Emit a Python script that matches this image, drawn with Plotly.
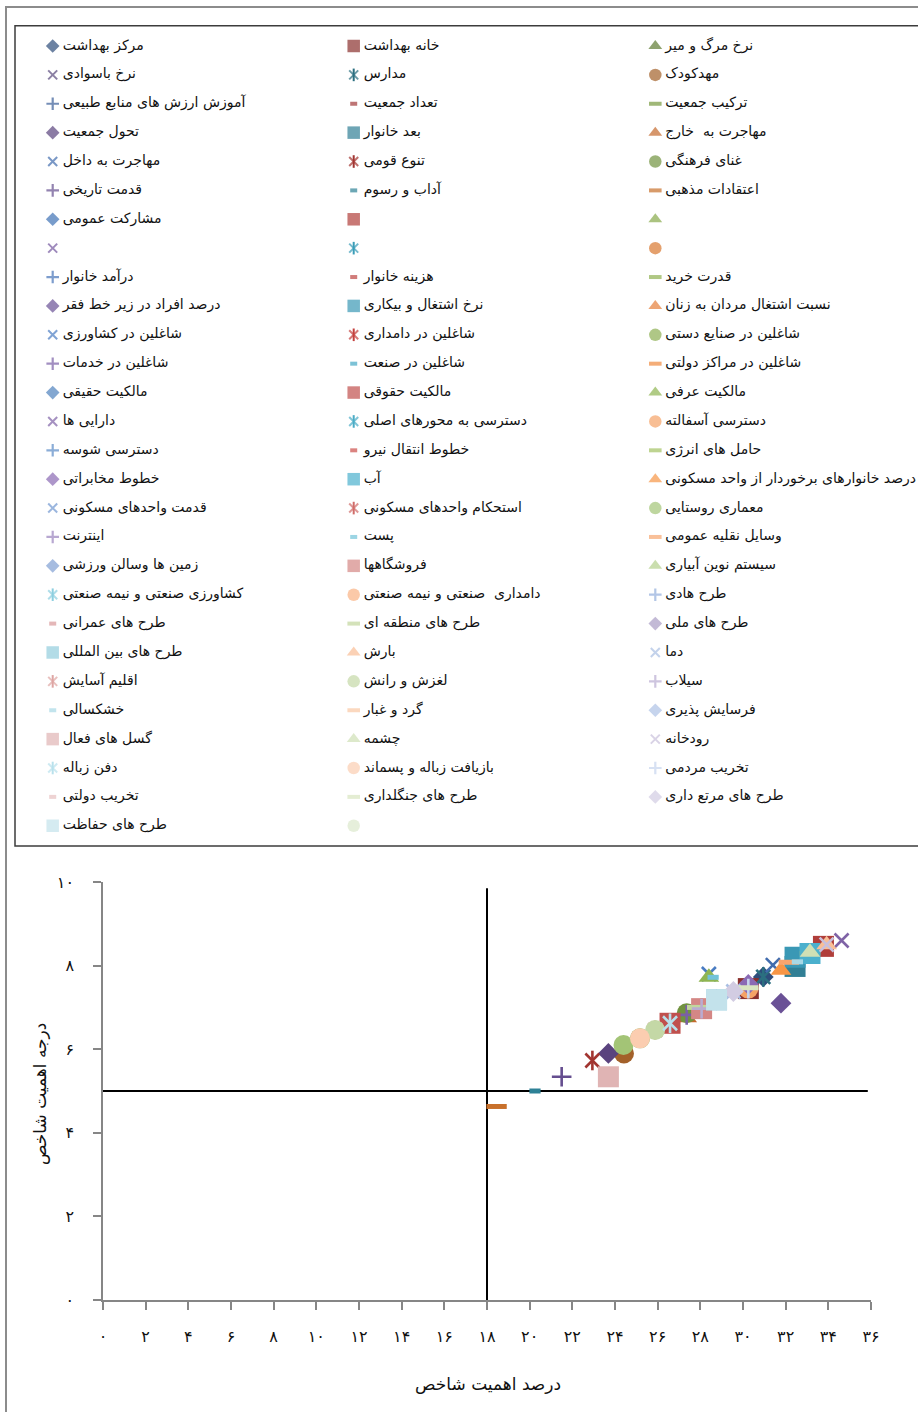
import plotly.graph_objects as go

# ---------------- data ----------------
names = [
    "مرکز بهداشت", "خانه بهداشت", "نرخ مرگ و میر",
    "نرخ باسوادی", "مدارس", "مهدکودک",
    "آموزش ارزش های منابع طبیعی", "تعداد جمعیت", "ترکیب جمعیت",
    "تحول جمعیت", "بعد خانوار", "مهاجرت به  خارج",
    "مهاجرت به داخل", "تنوع قومی", "غنای فرهنگی",
    "قدمت تاریخی", "آداب و رسوم", "اعتقادات مذهبی",
    "مشارکت عمومی", "", "",
    "", "", "",
    "درآمد خانوار", "هزینه خانوار", "قدرت خرید",
    "درصد افراد در زیر خط فقر", "نرخ اشتغال و بیکاری", "نسبت اشتغال مردان به زنان",
    "شاغلین در کشاورزی", "شاغلین در دامداری", "شاغلین در صنایع دستی",
    "شاغلین در خدمات", "شاغلین در صنعت", "شاغلین در مراکز دولتی",
    "مالکیت حقیقی", "مالکیت حقوقی", "مالکیت عرفی",
    "دارایی ها", "دسترسی به محورهای اصلی", "دسترسی آسفالته",
    "دسترسی شوسه", "خطوط انتقال نیرو", "حامل های انرژی",
    "خطوط مخابراتی", "آب", "درصد خانوارهای برخوردار از واحد مسکونی",
    "قدمت واحدهای مسکونی", "استحکام واحدهای مسکونی", "معماری روستایی",
    "اینترنت", "پست", "وسایل نقلیه عمومی",
    "زمین ها وسالن ورزشی", "فروشگاهها", "سیستم نوین آبیاری",
    "کشاورزی صنعتی و نیمه صنعتی", "دامداری  صنعتی و نیمه صنعتی", "طرح هادی",
    "طرح های عمرانی", "طرح های منطقه ای", "طرح های ملی",
    "طرح های بین المللی", "بارش", "دما",
    "اقلیم آسایش", "لغزش و رانش", "سیلاب",
    "خشکسالی", "گرد و غبار", "فرسایش پذیری",
    "گسل های فعال", "چشمه", "رودخانه",
    "دفن زباله", "بازیافت زباله و پسماند", "تخریب مردمی",
    "تخریب دولتی", "طرح های جنگلداری", "طرح های مرتع داری",
    "طرح های حفاظت", "",
]

# درصد اهمیت شاخص (x) for each series; None = no point
x_values = [
    30.95, 30.25, 28.76,
    33.14, 30.95, 24.42,
    28.76, 25.17, 33.14,
    23.69, 32.44, 27.36,
    31.40, 22.94, 27.36,
    21.50, 20.25, 18.45,
    33.14, 33.77, None,
    None, None, None,
    28.76, 25.17, 33.14,
    31.78, 32.44, 26.58,
    28.40, 26.58, 25.17,
    27.36, 33.14, 33.14,
    28.76, 26.58, 28.40,
    34.62, 28.06, 30.25,
    28.06, 25.17, 33.14,
    30.25, 33.14, 31.78,
    28.06, 28.06, 24.40,
    28.06, 28.60, 32.15,
    28.06, 28.06, 28.76,
    28.76, 28.76, 28.76,
    28.76, 27.85, 28.76,
    28.76, 33.92, 29.55,
    25.88, 25.88, 28.06,
    32.55, 28.76, 28.76,
    23.69, 33.14, 33.92,
    26.58, 25.17, 30.25,
    28.76, 30.25, 29.55,
    28.76, None,
]

# درجه اهمیت شاخص (y) for each series; None = no point
y_values = [
    7.73, 7.45, 7.18,
    8.29, 7.73, 5.90,
    7.18, 6.26, 8.29,
    5.90, 7.98, 6.75,
    8.01, 5.73, 6.86,
    5.34, 5.00, 4.63,
    8.29, 8.46, None,
    None, None, None,
    7.18, 6.26, 8.29,
    7.10, 8.20, 6.62,
    7.80, 6.62, 6.26,
    6.82, 8.29, 8.29,
    7.18, 6.62, 7.72,
    8.60, 6.97, 7.45,
    6.97, 6.26, 8.29,
    7.55, 8.29, 7.89,
    6.97, 6.97, 6.10,
    6.97, 7.72, 8.08,
    6.97, 6.97, 7.18,
    7.18, 7.18, 7.18,
    7.18, 7.00, 7.18,
    7.18, 8.50, 7.38,
    6.46, 6.46, 6.97,
    8.09, 7.18, 7.18,
    5.34, 8.32, 8.50,
    6.62, 6.26, 7.45,
    7.18, 7.47, 7.38,
    7.18, None,
]

x_ticks = list(range(0, 37, 2))
y_ticks = list(range(0, 11, 2))
x_title = "درصد اهمیت شاخص"
y_title = "درجه اهمیت شاخص"
cross_x = 18
cross_y = 5

# ---------------- styles ----------------
kinds = (
    "diamond square triangle x star circle plus sdash ldash "
    "diamond square triangle x star circle plus sdash ldash "
    "diamond square triangle x star circle plus sdash ldash "
    "diamond square triangle x star circle plus sdash ldash "
    "diamond square triangle x star circle plus sdash ldash "
    "diamond square triangle x star circle plus sdash ldash "
    "diamond square triangle star circle plus sdash ldash "
    "diamond square triangle x star circle plus sdash ldash "
    "diamond square triangle x star circle plus sdash ldash "
    "diamond square circle"
).split()

colors = [
    "#2E4D7B", "#8A302E", "#5E7A32", "#5A4A7E", "#2B6F80", "#A3612A", "#3A5E98", "#A33B3B", "#779A3F",
    "#5A437E", "#317F95", "#C56A2C", "#416CAE", "#A23531", "#71933F", "#654E8F", "#2E8196", "#C8702B",
    "#3E72B5", "#B03E3A", "#88AA4A", "#7559A0", "#3A9DB8", "#D9782F", "#4674B8", "#BD4541", "#8EB150",
    "#6A5196", "#3A98B5", "#E57F39", "#4A7CC2", "#C4413E", "#8DAF52", "#7A60A6", "#45A8C4", "#EF8A3E",
    "#4F81BD", "#C0504D", "#8FB551", "#7F63A6", "#4BACC6", "#F5A266", "#5A8AC6", "#CC4E4A", "#A2C262",
    "#8A6AB4", "#4BB0CD", "#F79646", "#7097D0", "#D06C69", "#A3C476", "#9A83BE", "#72C3D9", "#F7A56E",
    "#809FD3", "#D48785", "#B4D08C", "#8DCFE0", "#F9B283", "#93AEDB", "#D9999A", "#C2D69D", "#A99CC4",
    "#93CDDD", "#F9BE96", "#A9BFE3", "#DEA5A3", "#C4D8A6", "#B9ACD1", "#A8D8E6", "#FAC7A4", "#AEC2E6",
    "#E0B4B4", "#CFE0B5", "#C9C0DC", "#B9E1EC", "#FBCDB0", "#C6D4EE", "#E7C0C0", "#D8E5C1", "#D2CCE2",
    "#C3E2EB", "#DCE8CC",
]

# (plotly symbol, size, line width) for chart markers and legend markers
CHART_STYLE = {
    "diamond": ("diamond", 16, 0),
    "square": ("square", 21, 0),
    "triangle": ("triangle-up", 18, 0),
    "x": ("x-thin-open", 14, 2.6),
    "star": ("x-thin-open", 14, 2.6),
    "circle": ("circle", 20, 0),
    "plus": ("cross-thin-open", 14, 2.6),
    "sdash": ("line-ew-open", 8, 5),
    "ldash": ("line-ew-open", 14.5, 5),
}
LEGEND_STYLE = {
    "diamond": ("diamond", 10.5, 0),
    "square": ("square", 12.5, 0),
    "triangle": ("triangle-up", 12, 0),
    "x": ("x-thin-open", 9, 2),
    "star": ("x-thin-open", 9, 2),
    "circle": ("circle", 12.5, 0),
    "plus": ("cross-thin-open", 9, 2.2),
    "sdash": ("line-ew-open", 5, 4),
    "ldash": ("line-ew-open", 9, 4),
}

W, H = 918, 1412
FONT = "DejaVu Sans"
FA = str.maketrans("0123456789", "۰۱۲۳۴۵۶۷۸۹")


def fa(v):
    return str(v).translate(FA)


fig = go.Figure()

# ---------------- scatter series ----------------
for i, nm in enumerate(names):
    xv, yv = x_values[i], y_values[i]
    if xv is None or yv is None:
        continue
    sym, size, lw = CHART_STYLE[kinds[i]]
    c = colors[i]
    fig.add_trace(go.Scatter(
        x=[xv], y=[yv], mode="markers", name=nm or " ", showlegend=False,
        marker=dict(symbol=sym, size=size, color=c, line=dict(color=c, width=lw)),
        xaxis="x", yaxis="y", hoverinfo="name+x+y", cliponaxis=False,
    ))
    if kinds[i] == "star":
        fig.add_trace(go.Scatter(
            x=[xv], y=[yv], mode="markers", name=nm or " ", showlegend=False,
            marker=dict(symbol="line-ns-open", size=size, color=c, line=dict(color=c, width=lw)),
            xaxis="x", yaxis="y", hoverinfo="skip", cliponaxis=False,
        ))

# ---------------- hand-laid legend (3 columns) ----------------
col_x = [52.7, 353.7, 655.3]
row0, row_step = 46.0, 28.88
lx, ly, lsym, lsize, lwid = [], [], [], [], []
sx, sy, scol = [], [], []
for i, k in enumerate(kinds):
    r, cidx = divmod(i, 3)
    px, py = col_x[cidx], row0 + r * row_step
    sym, size, lw = LEGEND_STYLE[k]
    lx.append(px); ly.append(py); lsym.append(sym); lsize.append(size); lwid.append(lw)
    if k == "star":
        sx.append(px); sy.append(py); scol.append(colors[i])

fig.add_trace(go.Scatter(
    x=lx, y=ly, mode="markers", showlegend=False, hoverinfo="skip",
    marker=dict(symbol=lsym, size=lsize, color=colors, line=dict(color=colors, width=lwid)),
    xaxis="x2", yaxis="y2", cliponaxis=False,
))
fig.add_trace(go.Scatter(
    x=sx, y=sy, mode="markers", showlegend=False, hoverinfo="skip",
    marker=dict(symbol="line-ns-open", size=9, color=scol, line=dict(color=scol, width=2)),
    xaxis="x2", yaxis="y2", cliponaxis=False,
))
fig.add_trace(go.Scatter(
    x=[v + 10 for v in lx], y=ly, mode="text", text=names, textposition="middle right",
    textfont=dict(family=FONT, size=14, color="#111111"), showlegend=False, hoverinfo="skip",
    xaxis="x2", yaxis="y2", cliponaxis=False,
))

# ---------------- layout ----------------
axis_grey = "#868686"
fig.update_layout(
    width=W, height=H, autosize=False,
    margin=dict(l=0, r=0, t=0, b=0, autoexpand=False),
    paper_bgcolor="white", plot_bgcolor="rgba(0,0,0,0)",
    showlegend=False,
    font=dict(family=FONT, color="#111111"),
    xaxis=dict(
        domain=[103 / W, 871 / W], range=[0, 36], anchor="y", automargin=False,
        tickmode="array", tickvals=x_ticks, ticktext=[fa(v) for v in x_ticks],
        showline=True, linecolor=axis_grey, linewidth=1.5,
        ticks="outside", ticklen=8, tickwidth=1.5, tickcolor=axis_grey,
        showgrid=False, zeroline=False, tickfont=dict(size=16),
        ticklabelstandoff=13,
    ),
    yaxis=dict(
        domain=[1 - 1300 / H, 1 - 882 / H], range=[0, 10], anchor="x", automargin=False,
        tickmode="array", tickvals=y_ticks, ticktext=[fa(v) for v in y_ticks],
        showline=True, linecolor=axis_grey, linewidth=1.5,
        ticks="outside", ticklen=8, tickwidth=1.5, tickcolor=axis_grey,
        showgrid=False, zeroline=False, tickfont=dict(size=16),
        ticklabelstandoff=16,
    ),
    xaxis2=dict(domain=[0, 1], range=[0, W], visible=False, anchor="y2",
                fixedrange=True, automargin=False),
    yaxis2=dict(domain=[0, 1], range=[H, 0], visible=False, anchor="x2",
                fixedrange=True, automargin=False),
    annotations=[
        dict(text=x_title, xref="paper", yref="paper", x=488 / W, y=1 - 1384 / H,
             xanchor="center", yanchor="middle", showarrow=False, font=dict(size=17)),
        dict(text=y_title, xref="paper", yref="paper", x=40 / W, y=1 - 1094 / H,
             xanchor="center", yanchor="middle", showarrow=False, textangle=-90,
             font=dict(size=17)),
    ],
    shapes=[
        # outer grey frame
        dict(type="rect", xref="paper", yref="paper", x0=6 / W, x1=1.02, y0=-0.02, y1=1 - 7 / H,
             line=dict(color="#8C8C8C", width=2), fillcolor="rgba(0,0,0,0)", layer="below"),
        # legend frame
        dict(type="rect", xref="paper", yref="paper", x0=15 / W, x1=1.02, y0=1 - 846 / H, y1=1 - 25.7 / H,
             line=dict(color="#3C3C3C", width=1.5), fillcolor="rgba(0,0,0,0)", layer="below"),
        # quadrant lines
        dict(type="line", xref="x", yref="y", x0=cross_x, x1=cross_x, y0=0, y1=9.85,
             line=dict(color="black", width=2), layer="below"),
        dict(type="line", xref="x", yref="y", x0=0, x1=35.85, y0=cross_y, y1=cross_y,
             line=dict(color="black", width=2), layer="below"),
    ],
)

fig.write_html(
    "out.html",
    config={"displayModeBar": False},
    post_script="document.body.style.margin='0';document.body.style.overflow='hidden';",
)
